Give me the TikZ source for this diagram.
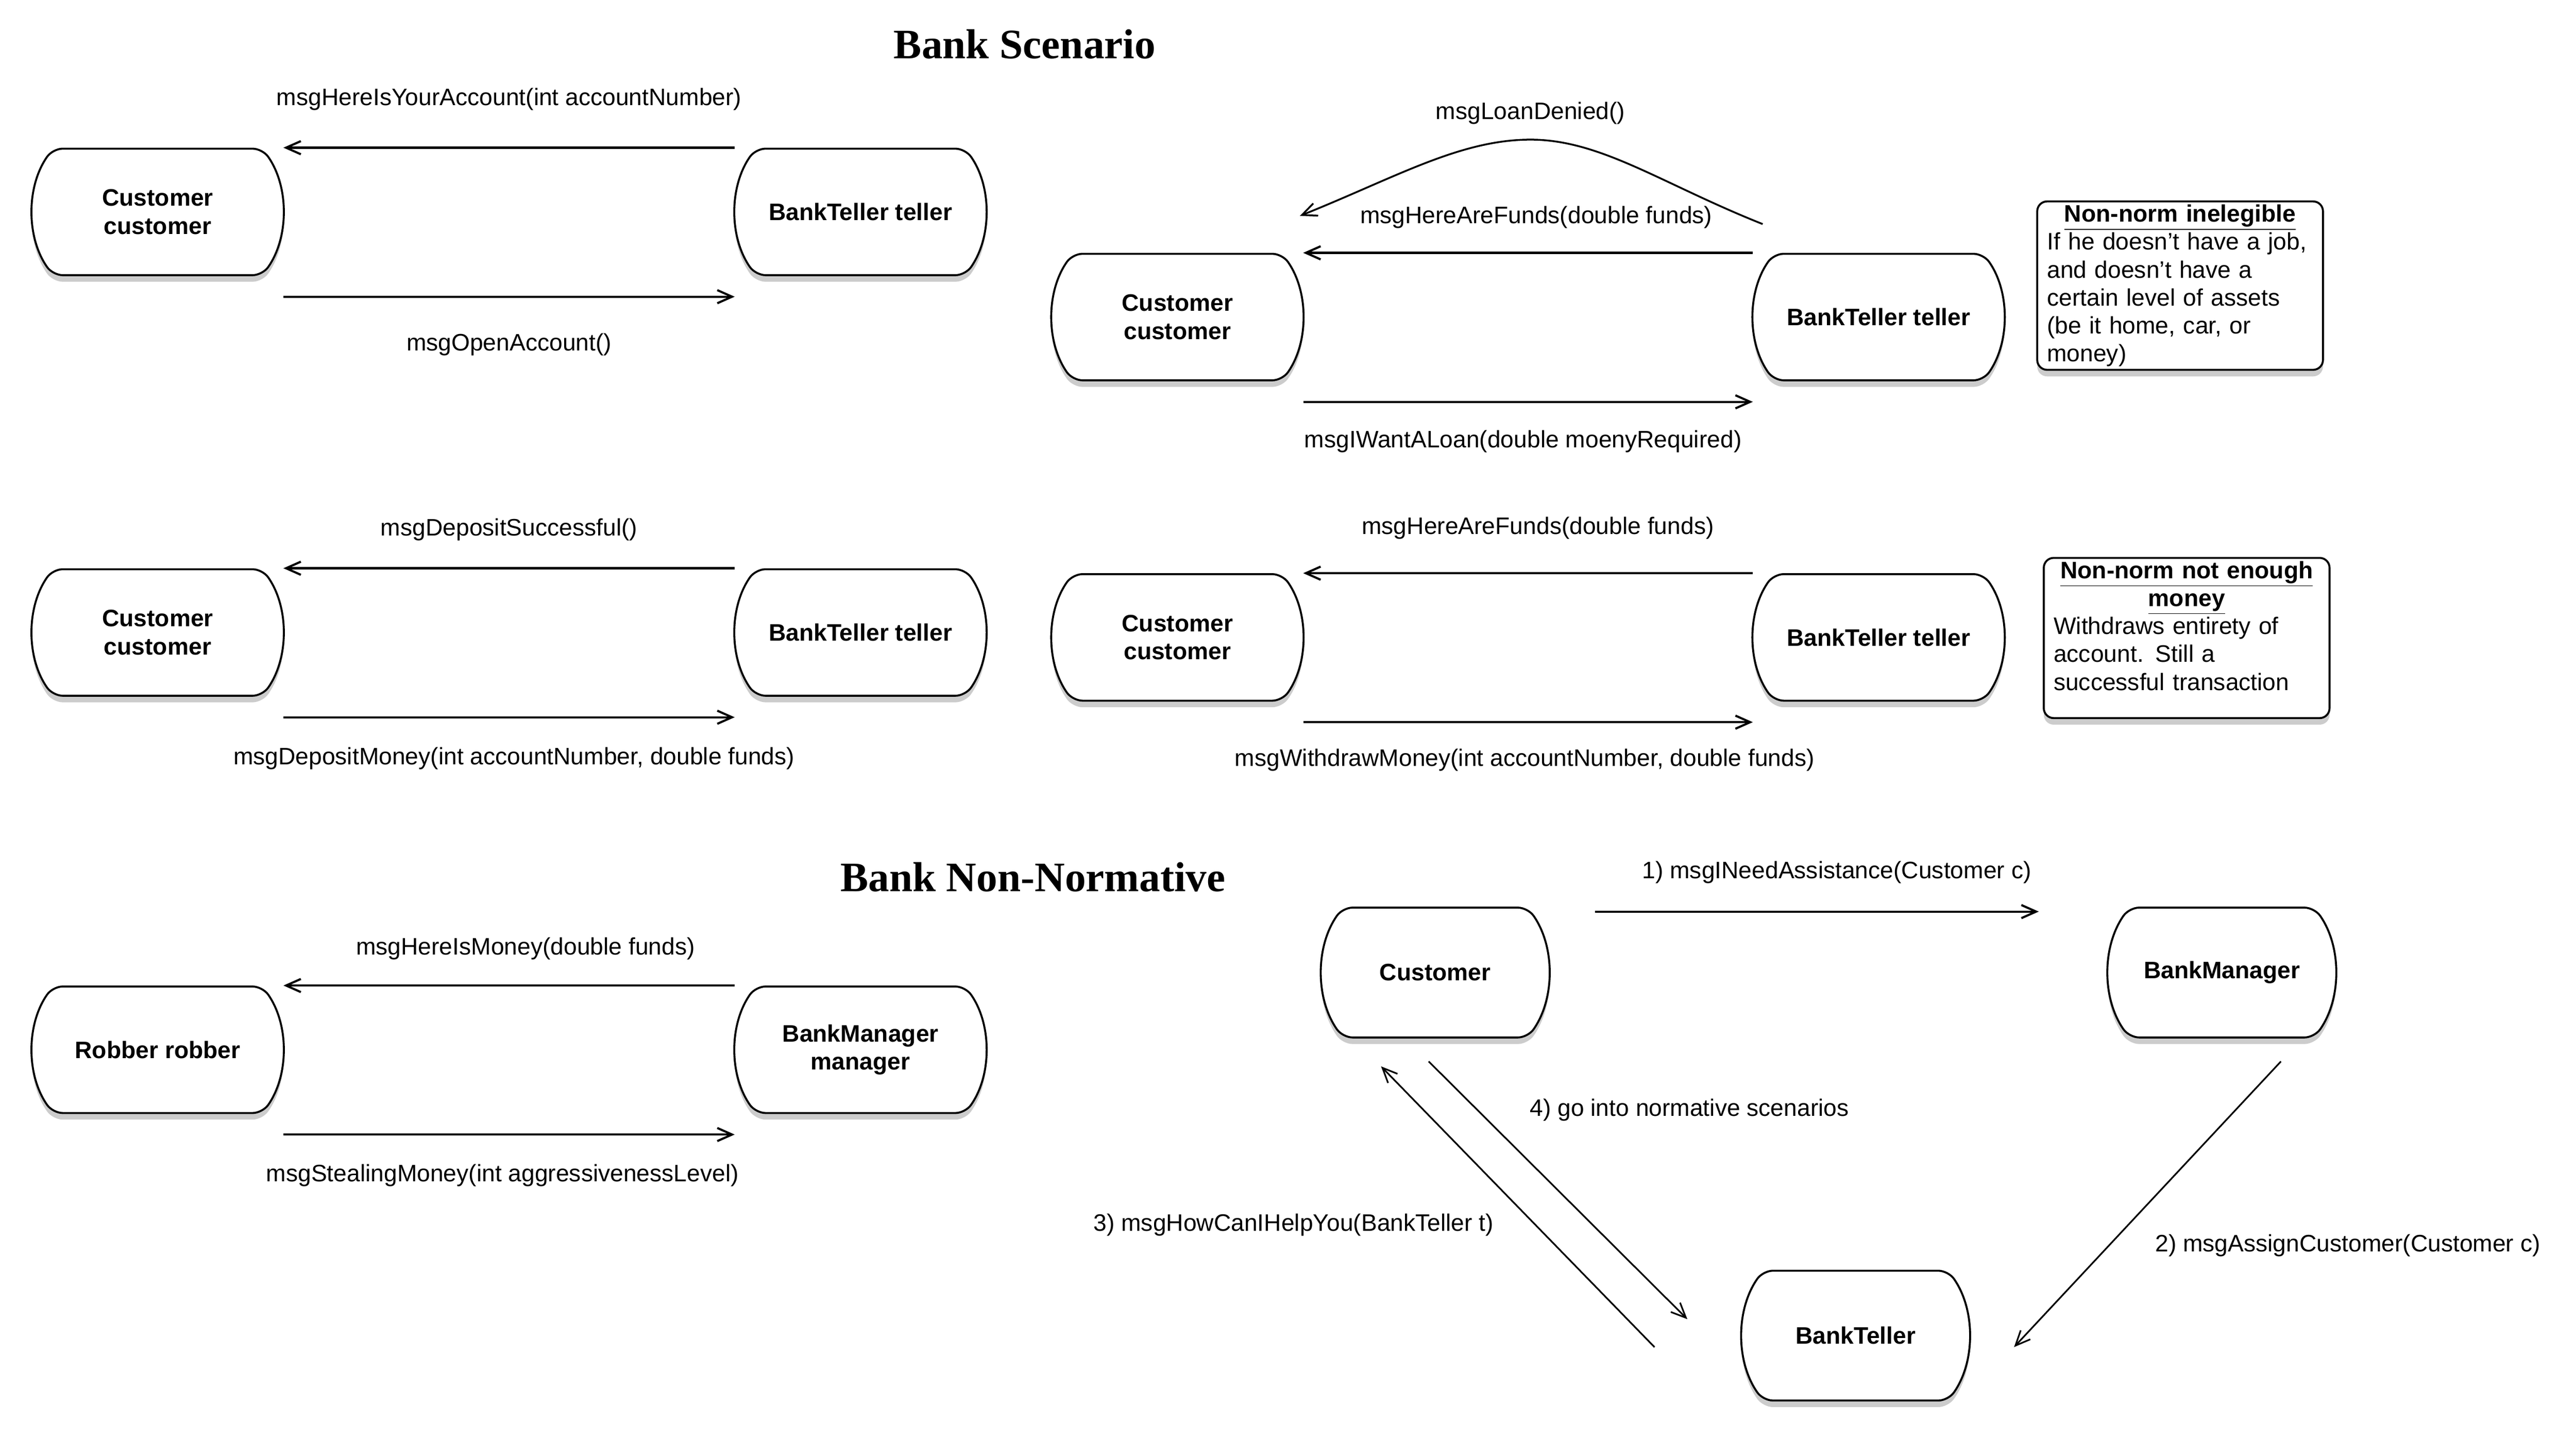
\documentclass[tikz,border=0pt]{standalone}
\usepackage{fontspec}
\setmainfont{Liberation Sans}
\newfontfamily\titlefont{Liberation Serif}
\usetikzlibrary{positioning}
\usetikzlibrary{shapes.misc,shapes}
\usetikzlibrary{arrows.meta}
\usetikzlibrary{calc}
\usetikzlibrary{shadows}

\tikzset{
  agent/.style={rounded rectangle, rounded rectangle arc length=70, rounded corners=6pt, draw, line width=1.2pt, fill=white,
    minimum width=156pt, minimum height=77pt, inner sep=2pt, align=center, font=\fontsize{14.5}{17}\selectfont\bfseries,
    drop shadow={shadow xshift=0pt, shadow yshift=-4pt, fill=black!40, opacity=0.5}},
  agentsmall/.style={agent, minimum width=138pt, minimum height=79pt},
  note/.style={draw, rounded corners=6pt, line width=1.2pt, fill=white, anchor=north west,
    text width=162pt, inner xsep=6pt, inner ysep=2pt, align=left,
    drop shadow={shadow xshift=0pt, shadow yshift=-4pt, fill=black!40, opacity=0.5}},
  msg/.style={line width=1.3pt, -{Straight Barb[length=9pt,width=8pt]}},
  thinmsg/.style={line width=1pt, -{Straight Barb[length=9pt,width=8pt]}},
  heading/.style={font=\titlefont\fontsize{25.5}{30}\selectfont\bfseries}
}
\newcommand{\notetitle}[1]{\makebox[\hsize][c]{\bfseries\underline{#1}}}

\begin{document}
\begin{tikzpicture}[x=1pt,y=-1pt,font=\fontsize{14.5}{17}\selectfont]
\useasboundingbox (0,0) rectangle (1568.7,875.3);

    % titles
    \node[heading] (title1) at (624,27) {Bank Scenario};
    \node[heading] (title2) at (629,534) {Bank Non-Normative};

    % customer / teller pairs
    \foreach \i/\xa/\xb/\y in {1/96/524/129, 2/717/1144/193, 3/96/524/385, 4/717/1144/388} {
        \node[agent] (cust\i) at (\xa,\y) {Customer\\customer};
        \node[agent] (teller\i) at (\xb,\y) {BankTeller teller};
    }
    \node[agent] (robber) at (96,639) {Robber robber};
    \node[agent] (manager) at (524,639) {BankManager\\manager};

    % non-normative triangle
    \node[agentsmall] (custN) at (874,592) {Customer};
    \node[agentsmall] (managerN) at (1353,592) {BankManager};
    \node[agentsmall] (tellerN) at (1130,813) {BankTeller};

    % notes
    \node[note] (note1) at (1240,122) {\notetitle{Non-norm inelegible}\\If he doesn't have a job,\\and doesn't have a\\certain level of assets\\(be it home, car, or\\money)};
    \node[note] (note2) at (1244,339) {\notetitle{Non-norm not enough}\\\notetitle{money}\\Withdraws entirety of\\account. Still a\\successful transaction\rule[-15pt]{0pt}{15pt}};

    % open account
    \draw[msg] (teller1.west |- teller1.north) -- (cust1.east |- cust1.north)
        node[midway,yshift=29.5pt] {msgHereIsYourAccount(int accountNumber)};
    \draw[msg] ([yshift=-12.5pt]cust1.east |- cust1.south) -- ([yshift=-12.5pt]teller1.west |- teller1.south)
        node[midway,yshift=-29pt] {msgOpenAccount()};

    % loan
    \draw[msg] (teller2.west |- teller2.north) -- (cust2.east |- cust2.north)
        node[midway,xshift=5pt,yshift=21.5pt] {msgHereAreFunds(double funds)};
    \draw[line width=1.1pt, -{Straight Barb[length=9pt,width=8pt]}] ([xshift=6pt,yshift=17.5pt]teller2.west |- teller2.north)
        .. controls (1012,112) and (975,85) .. (932,85)
        .. controls (889,85) and (850,108) .. ([xshift=-2pt,yshift=22.5pt]cust2.east |- cust2.north)
        node[pos=0,yshift=16pt] {msgLoanDenied()};
    \draw[msg] ([yshift=-12.5pt]cust2.east |- cust2.south) -- ([yshift=-12.5pt]teller2.west |- teller2.south)
        node[midway,xshift=-3pt,yshift=-24pt] {msgIWantALoan(double moenyRequired)};

    % deposit
    \draw[msg] (teller3.west |- teller3.north) -- (cust3.east |- cust3.north)
        node[midway,yshift=23.5pt] {msgDepositSuccessful()};
    \draw[msg] ([yshift=-12.5pt]cust3.east |- cust3.south) -- ([yshift=-12.5pt]teller3.west |- teller3.south)
        node[midway,xshift=3pt,yshift=-25pt] {msgDepositMoney(int accountNumber, double funds)};

    % withdraw
    \draw[msg] (teller4.west |- teller4.north) -- (cust4.east |- cust4.north)
        node[midway,xshift=6pt,yshift=27.5pt] {msgHereAreFunds(double funds)};
    \draw[msg] ([yshift=-12.5pt]cust4.east |- cust4.south) -- ([yshift=-12.5pt]teller4.west |- teller4.south)
        node[midway,xshift=-2pt,yshift=-23pt] {msgWithdrawMoney(int accountNumber, double funds)};

    % robbery
    \draw[msg] (manager.west |- manager.north) -- (robber.east |- robber.north)
        node[midway,xshift=10pt,yshift=22.5pt] {msgHereIsMoney(double funds)};
    \draw[msg] ([yshift=-12.5pt]robber.east |- robber.south) -- ([yshift=-12.5pt]manager.west |- manager.south)
        node[midway,xshift=-4pt,yshift=-25pt] {msgStealingMoney(int aggressivenessLevel)};

    % triangle connectors
    \draw[msg] ([xshift=28pt,yshift=-3pt]custN.east |- custN.north) -- ([xshift=-42pt,yshift=-3pt]managerN.west |- managerN.north)
        node[midway,xshift=12pt,yshift=24pt] {1) msgINeedAssistance(Customer c)};
    \draw[thinmsg] ($(managerN.south)+(36,14)$) -- ($(tellerN.east)+(27,7)$)
        node[midway,xshift=122pt,yshift=-25pt] {2) msgAssignCustomer(Customer c)};
    \draw[thinmsg] ($(tellerN.west)+(-53,7)$) -- ($(custN.south)+(-33,17)$)
        node[midway,xshift=-136.5pt,yshift=-11pt] {3) msgHowCanIHelpYou(BankTeller t)};
    \draw[thinmsg] ($(custN.south)+(-4,14)$) -- ($(tellerN.west)+(-33,-10)$)
        node[midway,xshift=80pt,yshift=49pt] {4) go into normative scenarios};
\end{tikzpicture}
\end{document}
